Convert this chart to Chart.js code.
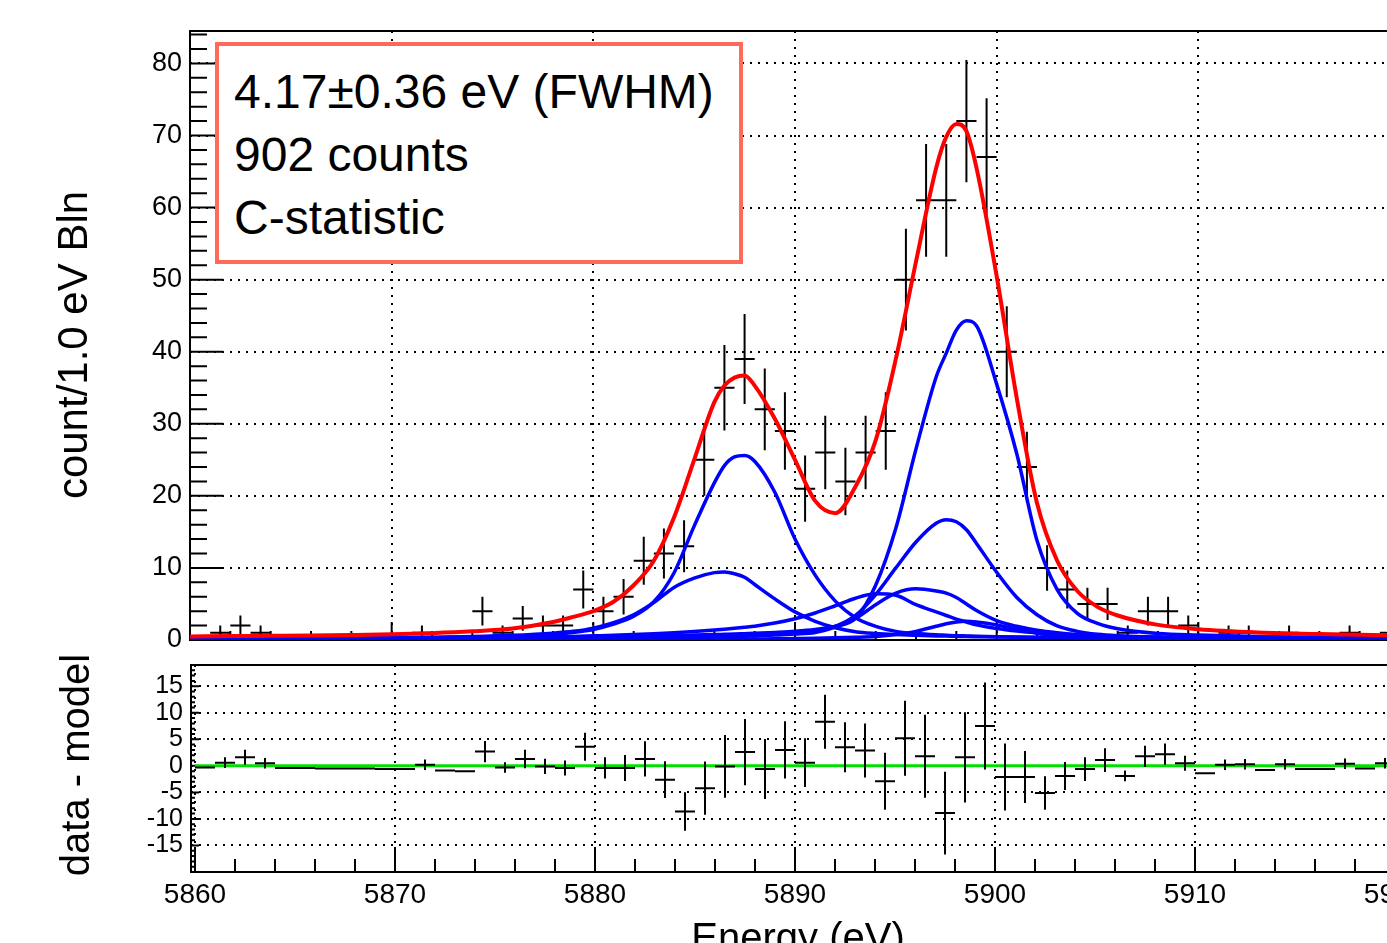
<!DOCTYPE html>
<html>
<head>
<meta charset="utf-8">
<script src="https://cdn.jsdelivr.net/npm/chart.js@4.4.0/dist/chart.umd.min.js"></script>
<style>
html,body{margin:0;padding:0;background:#fff;}
#wrap{position:relative;width:1387px;height:943px;overflow:hidden;background:#fff;font-family:"Liberation Sans",Arial,Helvetica,sans-serif;color:#000;}
canvas{position:absolute;left:0;}
#topc{top:0;}
#botc{top:635px;}
.ytitle{position:absolute;line-height:46px;white-space:nowrap;transform:translate(-50%,-50%) rotate(-90deg);}
#xtitle{position:absolute;left:798px;top:917px;font-size:40px;line-height:40px;white-space:nowrap;transform:translateX(-50%);}
#stats{position:absolute;left:215px;top:42px;width:528px;height:222px;box-sizing:border-box;border:4px solid #ff6a5a;padding:14px 0 0 15px;font-size:48px;line-height:63px;white-space:nowrap;background:#fff;}
</style>
</head>
<body>
<div id="wrap">
<canvas id="topc" width="1460" height="670"></canvas>
<canvas id="botc" width="1460" height="308"></canvas>
<div class="ytitle" style="left:73px;top:345px;font-size:42px;">count/1.0 eV Bln</div>
<div class="ytitle" style="left:75px;top:765px;font-size:40px;">data - model</div>
<div id="xtitle">Energy (eV)</div>
<div id="stats"><div>4.17±0.36 eV (FWHM)</div><div>902 counts</div><div>C-statistic</div></div>
</div>
<script>
// ---------- data ----------
const binCenters = [5860.5,5861.5,5862.5,5863.5,5864.5,5865.5,5866.5,5867.5,5868.5,5869.5,
  5870.5,5871.5,5872.5,5873.5,5874.5,5875.5,5876.5,5877.5,5878.5,5879.5,
  5880.5,5881.5,5882.5,5883.5,5884.5,5885.5,5886.5,5887.5,5888.5,5889.5,
  5890.5,5891.5,5892.5,5893.5,5894.5,5895.5,5896.5,5897.5,5898.5,5899.5,
  5900.5,5901.5,5902.5,5903.5,5904.5,5905.5,5906.5,5907.5,5908.5,5909.5,
  5910.5,5911.5,5912.5,5913.5,5914.5,5915.5,5916.5,5917.5,5918.5,5919.5];
const counts = [0,1,2,1,0,0,0,0,0,0,
  0,1,0,0,4,1,3,2,2,7,
  4,6,11,12,13,25,35,39,32,29,
  21,26,22,26,29,50,61,61,72,67,
  40,24,10,7,5,5,1,4,4,2,
  0,1,1,0,1,0,0,1,0,1];
const residuals = [-0.3,0.6,1.6,0.5,-0.4,-0.4,-0.5,-0.5,-0.5,-0.6,
  -0.6,0.2,-0.9,-1.0,2.7,-0.3,1.3,-0.1,-0.4,3.6,
  -0.4,-0.4,1.3,-2.6,-8.6,-4.2,-0.1,2.6,-0.6,3.0,
  0.6,8.3,3.5,2.9,-2.9,5.2,1.8,-8.9,1.6,7.5,
  -2.1,-2.1,-5.1,-1.9,-0.6,1.1,-1.9,1.8,2.2,0.5,
  -1.4,0.2,0.3,-0.8,0.3,-0.6,-0.6,0.4,-0.5,0.5];

const curveEnergy = [5860,5862,5864,5866,5868,5870,5872,5874,5876,5878,5879,5880,5881,5882,5883,5884,5885,5886,5886.5,5887,5887.5,5888,5889,5890,5891,5892,5893,5894,5895,5896,5897,5897.5,5898,5898.5,5899,5900,5901,5902,5903,5904,5905,5906,5908,5910,5913,5916,5920];
const totalModel = [0.5,0.55,0.58,0.62,0.7,0.8,0.95,1.2,1.6,2.5,3.2,4.0,5.3,7.6,11.0,17.0,25.0,33.0,35.3,36.4,36.7,35.3,30.7,25.0,19.3,17.6,21.3,27.7,39.0,52.5,65.5,69.8,71.6,70.6,65.5,50.5,33.5,19.0,11.0,6.8,4.6,3.4,2.1,1.5,1.05,0.82,0.62];
const compKa21 = [0.14,0.16,0.18,0.2,0.24,0.28,0.34,0.42,0.55,0.8,1.05,1.45,2.2,3.3,5.3,9.3,15.8,21.8,24.2,25.4,25.6,24.8,20.5,14.0,9.0,5.4,3.1,1.9,1.2,0.9,0.72,0.66,0.6,0.56,0.52,0.46,0.41,0.37,0.33,0.3,0.27,0.25,0.21,0.18,0.15,0.12,0.1];
const compKa22 = [0.14,0.16,0.19,0.22,0.26,0.31,0.38,0.48,0.65,0.95,1.2,1.65,2.4,3.5,5.2,7.3,8.6,9.35,9.45,9.2,8.7,7.7,5.7,3.9,2.6,1.7,1.15,0.9,0.75,0.65,0.57,0.54,0.51,0.48,0.46,0.42,0.38,0.35,0.32,0.3,0.28,0.26,0.22,0.19,0.16,0.13,0.11];
const compKa11 = [0.09,0.1,0.11,0.12,0.14,0.16,0.19,0.22,0.27,0.34,0.38,0.42,0.46,0.51,0.56,0.62,0.68,0.75,0.79,0.83,0.88,0.93,1.05,1.2,1.45,1.9,3.0,7.6,15.5,26.5,36.5,39.8,43.0,44.3,43.6,35.5,25.8,13.8,7.0,3.7,2.3,1.55,0.9,0.68,0.47,0.36,0.27];
const compKa12 = [0.05,0.055,0.06,0.07,0.08,0.09,0.11,0.13,0.16,0.2,0.22,0.25,0.28,0.31,0.35,0.4,0.45,0.52,0.56,0.6,0.65,0.7,0.82,1.0,1.3,1.9,3.4,6.3,10.0,13.6,16.2,16.7,16.4,15.3,13.4,9.4,5.9,3.5,1.95,1.2,0.8,0.6,0.4,0.3,0.2,0.15,0.11];
const compKa14 = [0.04,0.045,0.05,0.055,0.065,0.075,0.09,0.11,0.13,0.16,0.18,0.2,0.22,0.25,0.28,0.32,0.36,0.42,0.45,0.49,0.53,0.57,0.68,0.82,1.05,1.8,3.0,4.9,6.5,7.1,6.8,6.5,5.9,5.0,4.1,2.7,1.9,1.35,1.0,0.76,0.6,0.5,0.36,0.28,0.2,0.15,0.11];
const compKa13 = [0.09,0.1,0.11,0.13,0.15,0.18,0.22,0.27,0.34,0.44,0.5,0.58,0.66,0.76,0.88,1.02,1.18,1.38,1.5,1.63,1.77,1.92,2.35,2.95,3.75,4.75,5.8,6.4,6.2,4.9,3.9,3.4,2.9,2.5,2.1,1.6,1.25,1.0,0.82,0.68,0.58,0.5,0.39,0.31,0.23,0.18,0.13];
const compKa15 = [0.01,0.01,0.012,0.014,0.016,0.019,0.022,0.026,0.032,0.04,0.045,0.05,0.055,0.06,0.068,0.077,0.088,0.1,0.11,0.12,0.13,0.14,0.16,0.2,0.24,0.3,0.38,0.5,0.75,1.2,1.9,2.25,2.5,2.6,2.5,2.1,1.5,0.95,0.55,0.32,0.2,0.14,0.08,0.06,0.04,0.03,0.02];
const zeroLine = [0,0];
const zeroLineEnergy = [5860,5920.25];

const xMajorTicks = [5860,5870,5880,5890,5900,5910,5920];
const yTopTicks = [0,10,20,30,40,50,60,70,80];
const yResTicks = [-15,-10,-5,0,5,10,15];

// ---------- helpers ----------
const FONT = '"Liberation Sans", Arial, Helvetica, sans-serif';
Chart.defaults.font.family = FONT;
Chart.defaults.color = '#000';

function pts(xs, ys){ return xs.map((x,i)=>({x:x, y:ys[i]})); }
function crossPoints(xs, ys, cnt){
  const out = [];
  xs.forEach((x,i)=>{
    out.push({x:x-0.5,y:ys[i]},{x:x+0.5,y:ys[i]},{x:x,y:null});
    const e = Math.sqrt(cnt[i]);
    if (e>0){ out.push({x:x,y:ys[i]-e},{x:x,y:ys[i]+e},{x:x,y:null}); }
  });
  return out;
}
function range(a,b,s){ const r=[]; for(let v=a; v<=b+1e-9; v+=s) r.push(Math.round(v*100)/100); return r; }

function makeFrame(xT, yT){
  return {
    id:'rootFrame',
    beforeDatasetsDraw(chart){
      const {ctx, chartArea:a} = chart;
      const xs = chart.scales.x, ys = chart.scales.y;
      ctx.save();
      ctx.setLineDash([]);
      ctx.strokeStyle = '#000';
      ctx.lineWidth = 2;
      ctx.beginPath();
      xT.vals.forEach(v=>{
        const p = xs.getPixelForValue(v);
        if (p < a.left-1 || p > a.right+1) return;
        const L = (Math.abs(v % xT.major) < 1e-6) ? xT.majorLen : xT.minorLen;
        ctx.moveTo(p, a.bottom); ctx.lineTo(p, a.bottom - L);
      });
      yT.vals.forEach(v=>{
        const p = ys.getPixelForValue(v);
        if (p < a.top-1 || p > a.bottom+1) return;
        const L = (Math.abs(v % yT.major) < 1e-6) ? yT.majorLen : yT.minorLen;
        ctx.moveTo(a.left, p); ctx.lineTo(a.left + L, p);
      });
      ctx.stroke();
      ctx.strokeRect(a.left, a.top, a.right - a.left, a.bottom - a.top);
      ctx.restore();
    }
  };
}

const gridStyle = {color:'#000', lineWidth:2, drawTicks:false};
const dotted = {display:false, dash:[2,6]};
const blue = '#0000ff';
function comp(arr){
  return {data: pts(curveEnergy, arr), borderColor: blue, borderWidth: 3.5, pointRadius: 0,
          cubicInterpolationMode: 'monotone', fill: false};
}

// ---------- top panel ----------
new Chart(document.getElementById('topc'), {
  type: 'line',
  data: { datasets: [
    {data: pts(curveEnergy, totalModel), borderColor:'#ff0000', borderWidth:4, pointRadius:0, cubicInterpolationMode:'monotone', fill:false},
    comp(compKa11), comp(compKa12), comp(compKa14), comp(compKa13), comp(compKa15), comp(compKa21), comp(compKa22),
    {data: crossPoints(binCenters, counts, counts), borderColor:'#000', borderWidth:2, pointRadius:0, tension:0, spanGaps:false, fill:false}
  ]},
  options: {
    responsive:false, animation:false, devicePixelRatio:1, events:[],
    layout:{padding:{top:31,right:60,left:0,bottom:0}},
    plugins:{legend:{display:false}, tooltip:{enabled:false}},
    scales:{
      x:{type:'linear', min:5860, max:5920,
         afterBuildTicks:s=>{ s.ticks = xMajorTicks.map(v=>({value:v})); },
         afterFit:s=>{ s.height = 30; },
         ticks:{display:false}, grid:gridStyle, border:dotted},
      y:{type:'linear', min:0, max:84.5,
         afterBuildTicks:s=>{ s.ticks = yTopTicks.map(v=>({value:v})); },
         afterFit:s=>{ s.width = 190; },
         ticks:{font:{size:27, family:FONT}, color:'#000', padding:8, callback:v=>String(v)},
         grid:gridStyle, border:dotted}
    }
  },
  plugins:[makeFrame({vals:range(5860,5920,2), major:10, majorLen:18, minorLen:9},
                     {vals:range(0,84,2), major:10, majorLen:33, minorLen:17})]
});

// ---------- residual panel ----------
new Chart(document.getElementById('botc'), {
  type: 'line',
  data: { datasets: [
    {data: crossPoints(binCenters, residuals, counts), borderColor:'#000', borderWidth:2, pointRadius:0, tension:0, spanGaps:false, fill:false},
    {data: pts(zeroLineEnergy, zeroLine), borderColor:'#00e000', borderWidth:3, pointRadius:0, fill:false}
  ]},
  options: {
    responsive:false, animation:false, devicePixelRatio:1, events:[],
    layout:{padding:{top:30,right:60,left:0,bottom:0}},
    plugins:{legend:{display:false}, tooltip:{enabled:false}},
    scales:{
      x:{type:'linear', min:5859.8, max:5920.25,
         afterBuildTicks:s=>{ s.ticks = xMajorTicks.map(v=>({value:v})); },
         afterFit:s=>{ s.height = 71; },
         ticks:{font:{size:28, family:FONT}, color:'#000', padding:6, maxRotation:0, autoSkip:false, callback:v=>String(v)},
         grid:gridStyle, border:dotted},
      y:{type:'linear', min:-20, max:19,
         afterBuildTicks:s=>{ s.ticks = yResTicks.map(v=>({value:v})); },
         afterFit:s=>{ s.width = 191; },
         ticks:{font:{size:25, family:FONT}, color:'#000', padding:8, callback:v=>String(v)},
         grid:gridStyle, border:dotted}
    }
  },
  plugins:[makeFrame({vals:range(5860,5920,2), major:10, majorLen:25, minorLen:13},
                     {vals:range(-19,18,1), major:5, majorLen:8, minorLen:4})]
});
</script>
</body>
</html>
